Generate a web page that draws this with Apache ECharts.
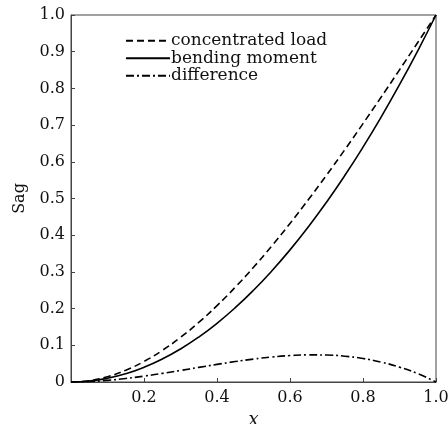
<!DOCTYPE html>
<html>
<head>
<meta charset="utf-8">
<script src="https://cdn.jsdelivr.net/npm/echarts@6/dist/echarts.min.js"></script>
<style>html,body{margin:0;padding:0;background:#fff}#c{width:448px;height:424px}</style>
</head>
<body>
<div id="c"></div>
<script>
const xValues = [0,0.05,0.1,0.15,0.2,0.25,0.3,0.35,0.4,0.45,0.5,0.55,0.6,0.65,0.7,0.75,0.8,0.85,0.9,0.95,1.0];
const concentratedLoad = [0,0.0037,0.0145,0.0321,0.056,0.0859,0.1215,0.1623,0.208,0.2582,0.3125,0.3706,0.432,0.4964,0.5635,0.6328,0.704,0.7767,0.8505,0.9251,1.0];
const bendingMoment = [0,0.0025,0.01,0.0225,0.04,0.0625,0.09,0.1225,0.16,0.2025,0.25,0.3025,0.36,0.4225,0.49,0.5625,0.64,0.7225,0.81,0.9025,1.0];
const difference = [0,0.0012,0.0045,0.0096,0.016,0.0234,0.0315,0.0398,0.048,0.0557,0.0625,0.0681,0.072,0.0739,0.0735,0.0703,0.064,0.0542,0.0405,0.0226,0];
const seriesNames = ['concentrated load','bending moment','difference'];

const pair = arr => xValues.map((x,i)=>[x,arr[i]]);
const FONT = 'DejaVu Serif';
const chart = echarts.init(document.getElementById('c'));
chart.setOption({
  animation:false,
  backgroundColor:'#fff',
  grid:{left:71,right:12,top:15,bottom:42,show:true,borderColor:'#444',borderWidth:1,containLabel:false,outerBoundsMode:'none'},
  legend:{
    orient:'vertical',left:120,top:27,itemWidth:44,itemHeight:10,itemGap:0,
    itemStyle:{color:'rgba(0,0,0,0)',borderWidth:0,opacity:0},
    textStyle:{fontFamily:FONT,fontSize:17,lineHeight:17.5,color:'#111',padding:[0,0,0,-4]},
    data:seriesNames
  },
  xAxis:{
    type:'value',min:0,max:1,interval:0.2,
    name:'x',nameLocation:'middle',nameGap:19,
    nameTextStyle:{fontFamily:FONT,fontStyle:'italic',fontSize:18,color:'#111'},
    axisLine:{lineStyle:{color:'#444'}},
    axisTick:{inside:true,length:4,lineStyle:{color:'#444'}},
    axisLabel:{fontFamily:FONT,fontSize:16,color:'#111',margin:8,formatter:v=>v===0?'':v.toFixed(1)},
    splitLine:{show:false}
  },
  yAxis:{
    type:'value',min:0,max:1,interval:0.1,
    name:'Sag',nameLocation:'middle',nameGap:43,
    nameTextStyle:{fontFamily:FONT,fontSize:16,color:'#111'},
    axisLine:{lineStyle:{color:'#444'}},
    axisTick:{inside:true,length:4,lineStyle:{color:'#444'}},
    axisLabel:{fontFamily:FONT,fontSize:16,color:'#111',margin:6,formatter:v=>v===0?'0':v.toFixed(1)},
    splitLine:{show:false}
  },
  series:[
    {name:seriesNames[0],type:'line',data:pair(concentratedLoad),smooth:true,symbol:'none',
     lineStyle:{color:'#000',width:1.6,type:[7,4]},itemStyle:{color:'#000'}},
    {name:seriesNames[1],type:'line',data:pair(bendingMoment),smooth:true,symbol:'none',
     lineStyle:{color:'#000',width:1.6,type:'solid'},itemStyle:{color:'#000'}},
    {name:seriesNames[2],type:'line',data:pair(difference),smooth:true,symbol:'none',
     lineStyle:{color:'#000',width:1.6,type:[8,3,2,3]},itemStyle:{color:'#000'}}
  ]
});
</script>
</body>
</html>
